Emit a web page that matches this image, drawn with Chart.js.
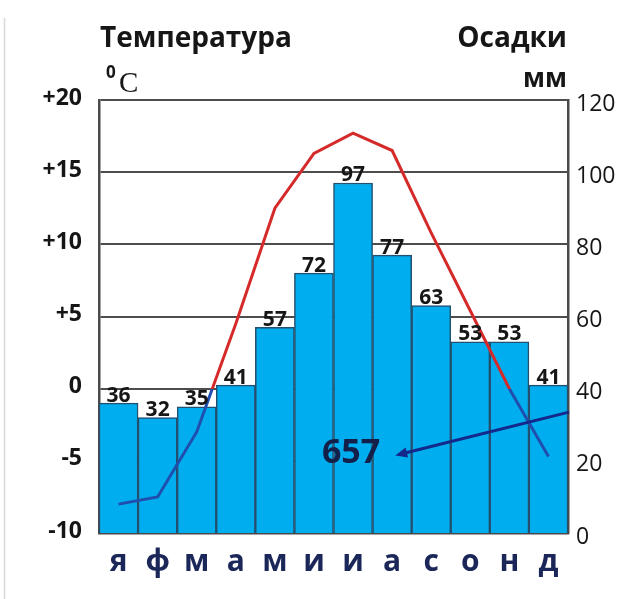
<!DOCTYPE html>
<html>
<head>
<meta charset="utf-8">
<script src="https://cdn.jsdelivr.net/npm/chart.js@4/dist/chart.umd.min.js"></script>
<style>
  html, body { margin: 0; padding: 0; background: #fff; }
  canvas { display: block; }
</style>
</head>
<body>
<canvas id="climate" width="640" height="599"></canvas>
<script>
// данные климатограммы
const months = ['я', 'ф', 'м', 'а', 'м', 'и', 'и', 'а', 'с', 'о', 'н', 'д'];
const precipitation = [36, 32, 35, 41, 57, 72, 97, 77, 63, 53, 53, 41];
const temperature = [-8, -7.5, -3, 4.5, 12.5, 16.3, 17.7, 16.5, 10.8, 5.4, 0, -4.7];

const RED = '#d42a2a';
const BLUE = '#1f4fae';
const INK = '#161616';
const NAVY = '#12204a';

// сумма осадков за год
const total = precipitation.reduce((s, v) => s + v, 0);

// линия температуры: красная выше нуля, синяя ниже
function tempColor(context) {
  const chart = context.chart;
  const area = chart.chartArea;
  if (!area) return RED;
  const y0 = chart.scales.y.getPixelForValue(0);
  const f = Math.min(1, Math.max(0, (y0 - area.top) / (area.bottom - area.top)));
  const g = chart.ctx.createLinearGradient(0, area.top, 0, area.bottom);
  g.addColorStop(0, RED);
  g.addColorStop(f, RED);
  g.addColorStop(f, BLUE);
  g.addColorStop(1, BLUE);
  return g;
}

// подписи, значения над столбиками и стрелка с суммой
const extras = {
  id: 'extras',
  afterDatasetsDraw(chart) {
    const ctx = chart.ctx;
    const area = chart.chartArea;
    const x = chart.scales.x;
    const y1 = chart.scales.y1;

    ctx.save();

    // рамка слева у картинки
    ctx.strokeStyle = '#d8d8d8';
    ctx.lineWidth = 1.5;
    ctx.beginPath();
    ctx.moveTo(4.5, 18);
    ctx.lineTo(4.5, 599);
    ctx.stroke();

    // значения осадков
    ctx.fillStyle = INK;
    ctx.font = 'bold 21px "Open Sans"';
    ctx.textAlign = 'center';
    ctx.textBaseline = 'bottom';
    chart.getDatasetMeta(1).data.forEach((bar, i) => {
      ctx.fillText(precipitation[i], bar.x, bar.y + 3);
    });

    // заголовки осей
    ctx.font = 'bold 28px "Open Sans"';
    ctx.textBaseline = 'alphabetic';
    ctx.textAlign = 'left';
    ctx.fillText('Температура', 100, 47);
    ctx.textAlign = 'right';
    ctx.fillText('Осадки', 567, 47);
    ctx.font = 'bold 26px "Open Sans"';
    ctx.fillText('мм', 567, 87);

    ctx.textAlign = 'left';
    ctx.font = 'bold 17px "Open Sans"';
    ctx.fillText('0', 106, 78);
    ctx.font = '29px "Liberation Serif"';
    ctx.fillText('C', 119, 92);

    // стрелка к сумме осадков
    const fromX = area.right + 1;
    const fromY = y1.getPixelForValue(33.5);
    const tipX = x.getPixelForValue(7.08);
    const tipY = y1.getPixelForValue(21.5);
    const ang = Math.atan2(tipY - fromY, tipX - fromX);
    ctx.strokeStyle = '#13288a';
    ctx.fillStyle = '#13288a';
    ctx.lineWidth = 3;
    ctx.beginPath();
    ctx.moveTo(fromX, fromY);
    ctx.lineTo(tipX + 8 * Math.cos(ang + Math.PI), tipY + 8 * Math.sin(ang + Math.PI));
    ctx.stroke();
    ctx.beginPath();
    ctx.moveTo(tipX, tipY);
    ctx.lineTo(tipX - 13 * Math.cos(ang - 0.4), tipY - 13 * Math.sin(ang - 0.4));
    ctx.lineTo(tipX - 13 * Math.cos(ang + 0.4), tipY - 13 * Math.sin(ang + 0.4));
    ctx.closePath();
    ctx.fill();

    ctx.fillStyle = NAVY;
    ctx.font = 'bold 34px "Open Sans"';
    ctx.textAlign = 'right';
    ctx.textBaseline = 'middle';
    ctx.fillText(String(total), tipX - 15, tipY - 2);

    ctx.restore();
  }
};

new Chart(document.getElementById('climate'), {
  data: {
    labels: months,
    datasets: [
      {
        type: 'line',
        label: 'Температура',
        data: temperature,
        yAxisID: 'y',
        borderColor: tempColor,
        borderWidth: 3,
        pointRadius: 0,
        tension: 0,
        fill: false,
        order: 0
      },
      {
        type: 'bar',
        label: 'Осадки',
        data: precipitation,
        yAxisID: 'y1',
        backgroundColor: '#00adee',
        borderColor: '#22506e',
        borderWidth: 1.5,
        barPercentage: 1,
        categoryPercentage: 1,
        order: 1
      }
    ]
  },
  options: {
    responsive: false,
    animation: false,
    layout: { padding: { top: 100 } },
    plugins: {
      legend: { display: false },
      tooltip: { enabled: false }
    },
    scales: {
      x: {
        grid: { display: false, drawTicks: false },
        border: { display: true, color: '#4a4a4a', width: 2.5 },
        ticks: {
          color: '#1b2758',
          padding: 11,
          font: { family: 'Open Sans', size: 30, weight: 'bold' }
        },
        afterFit(scale) { scale.height = 66; }
      },
      y: {
        position: 'left',
        min: -10,
        max: 20,
        ticks: {
          stepSize: 5,
          color: INK,
          padding: 17,
          labelOffset: -2,
          font: { family: 'Open Sans', size: 23, weight: 'bold' },
          callback: v => (v > 0 ? '+' + v : String(v))
        },
        grid: { color: '#4d4d4d', lineWidth: 2, drawTicks: false },
        border: { display: true, color: '#4a4a4a', width: 2.5 },
        afterFit(scale) { scale.width = 99; }
      },
      y1: {
        position: 'right',
        min: 0,
        max: 120,
        ticks: {
          stepSize: 20,
          color: INK,
          padding: 8,
          labelOffset: 4,
          font: { family: 'Open Sans', size: 23 }
        },
        grid: { display: false, drawTicks: false },
        border: { display: true, color: '#4a4a4a', width: 2.5 },
        afterFit(scale) { scale.width = 72; }
      }
    }
  },
  plugins: [extras]
});
</script>
</body>
</html>
